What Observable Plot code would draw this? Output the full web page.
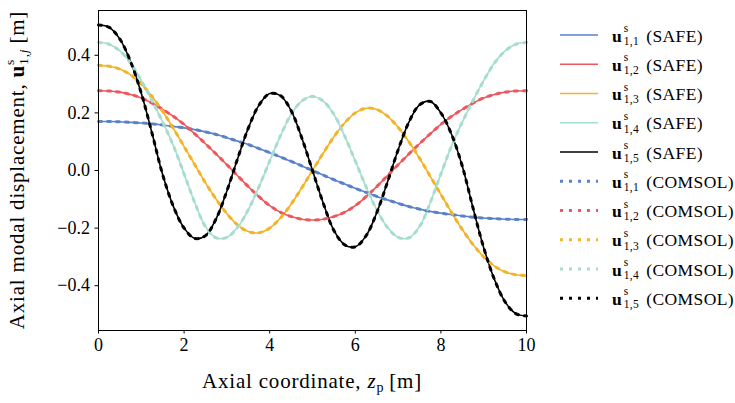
<!DOCTYPE html>
<html><head><meta charset="utf-8">
<script src="https://cdn.jsdelivr.net/npm/d3@7"></script>
<script src="https://cdn.jsdelivr.net/npm/@observablehq/plot@0.6"></script>
<style>
html,body{margin:0;padding:0;background:#fff;}
#chart{width:735px;height:403px;}
</style></head><body><div id="chart"></div>
<script>
// Axial coordinate samples [m]
const zp = [0,0.25,0.5,0.75,1,1.25,1.5,1.75,2,2.25,2.5,2.75,3,3.25,3.5,3.75,4,4.25,4.5,4.75,5,
            5.25,5.5,5.75,6,6.25,6.5,6.75,7,7.25,7.5,7.75,8,8.25,8.5,8.75,9,9.25,9.5,9.75,10];
// Mode shapes
const u11 = [0.170,0.170,0.169,0.167,0.165,0.162,0.158,0.153,0.148,0.142,0.134,0.125,0.114,0.102,0.090,0.076,0.062,0.047,0.032,0.016,0.000,
             -0.016,-0.032,-0.047,-0.062,-0.076,-0.090,-0.102,-0.114,-0.125,-0.134,-0.142,-0.148,-0.153,-0.158,-0.162,-0.165,-0.167,-0.169,-0.170,-0.170];
const u12 = [0.277,0.276,0.272,0.264,0.252,0.234,0.212,0.188,0.160,0.127,0.093,0.057,0.020,-0.018,-0.056,-0.091,-0.122,-0.145,-0.160,-0.169,-0.172,
             -0.169,-0.160,-0.145,-0.122,-0.091,-0.056,-0.018,0.020,0.057,0.093,0.127,0.160,0.188,0.212,0.234,0.252,0.264,0.272,0.276,0.277];
const u13 = [0.365,0.362,0.352,0.332,0.300,0.257,0.205,0.146,0.083,0.020,-0.043,-0.100,-0.150,-0.189,-0.212,-0.216,-0.200,-0.165,-0.117,-0.060,0.000,
             0.060,0.117,0.165,0.200,0.216,0.212,0.189,0.150,0.100,0.043,-0.020,-0.083,-0.146,-0.205,-0.257,-0.300,-0.332,-0.352,-0.362,-0.365];
const u14 = [0.445,0.438,0.415,0.373,0.312,0.243,0.168,0.086,-0.012,-0.112,-0.195,-0.234,-0.232,-0.197,-0.136,-0.056,0.033,0.120,0.195,0.241,0.257,
             0.241,0.195,0.120,0.033,-0.056,-0.136,-0.197,-0.232,-0.234,-0.195,-0.112,-0.012,0.086,0.168,0.243,0.312,0.373,0.415,0.438,0.445];
const u15 = [0.505,0.497,0.456,0.378,0.268,0.130,-0.015,-0.125,-0.200,-0.236,-0.226,-0.167,-0.071,0.041,0.147,0.227,0.267,0.260,0.208,0.113,0.000,
             -0.113,-0.208,-0.258,-0.265,-0.227,-0.147,-0.041,0.071,0.167,0.228,0.240,0.200,0.125,0.015,-0.130,-0.268,-0.378,-0.456,-0.497,-0.505];

const modeIndex = ["1","2","3","4","5"];
const modeValues = [u11,u12,u13,u14,u15];
const modeColors = ["#5A82C8","#EE585C","#F3B42A","#A6DDCF","#000000"];
const methods = ["SAFE","COMSOL"];
const xTicks = [0,2,4,6,8,10];
const yTicks = [-0.4,-0.2,0.0,0.2,0.4];

const FONT = "'Liberation Serif', 'Times New Roman', serif";

const marks = [];
modeValues.forEach((vals,k) => {
  const data = zp.map((z,i) => ({z, v: vals[i]}));
  marks.push(Plot.line(data, {x:"z", y:"v", stroke: modeColors[k], strokeWidth: 1.6, curve: "catmull-rom"}));
});
modeValues.forEach((vals,k) => {
  const data = zp.map((z,i) => ({z, v: vals[i]}));
  marks.push(Plot.line(data, {x:"z", y:"v", stroke: modeColors[k], strokeWidth: 3, strokeDasharray: "3,6", curve: "catmull-rom"}));
});
marks.push(Plot.frame({stroke: "black", strokeWidth: 1}));
marks.push(Plot.axisX({ticks: xTicks, tickSize: 3.5, tickPadding: 4.5, label: null, fontSize: 18, tickFormat: d3.format("d")}));
marks.push(Plot.axisY({ticks: yTicks, tickSize: 3.5, tickPadding: 5, label: null, fontSize: 18, tickFormat: d3.format(".1f")}));

const chart = Plot.plot({
  width: 735, height: 403,
  marginLeft: 98, marginRight: 209, marginTop: 10, marginBottom: 73,
  x: {domain: [0, 10]},
  y: {domain: [-0.5555, 0.5555]},
  style: {fontFamily: FONT, fontSize: "18px", color: "black", background: "white", overflow: "visible"},
  marks
});
document.getElementById("chart").appendChild(chart);

const svg = d3.select(chart);

// x axis label
const xl = svg.append("text").attr("x", 312).attr("y", 388).attr("text-anchor", "middle")
  .attr("font-family", FONT).attr("font-size", 21).attr("letter-spacing", 0.8).attr("fill", "black");
xl.append("tspan").text("Axial coordinate, ");
xl.append("tspan").attr("font-style", "italic").text("z");
xl.append("tspan").attr("font-size", 14).attr("dy", 4).text("p");
xl.append("tspan").attr("dy", -4).attr("dx", 5).text("[m]");

// y axis label
const yl = svg.append("text").attr("transform", "translate(23.5,170) rotate(-90)").attr("text-anchor", "middle")
  .attr("font-family", FONT).attr("font-size", 21).attr("letter-spacing", 0.8).attr("fill", "black");
yl.append("tspan").text("Axial modal displacement, ");
yl.append("tspan").attr("font-weight", "bold").text("u");
yl.append("tspan").attr("font-size", 13.5).attr("dy", -10).text("s");
yl.append("tspan").attr("font-size", 13.5).attr("dx", -6).attr("dy", 14).text("1,");
yl.append("tspan").attr("font-size", 13.5).attr("font-style", "italic").text("j");
yl.append("tspan").attr("dy", -4).attr("dx", 5).text("[m]");

// legend
const lg = svg.append("g").attr("font-family", FONT).attr("fill", "black").attr("text-anchor", "start");
let row = 0;
methods.forEach(m => {
  modeIndex.forEach((idx,k) => {
    const y = 35 + row * 29.26;
    lg.append("line").attr("x1", 560).attr("x2", 598).attr("y1", y).attr("y2", y)
      .attr("stroke", modeColors[k])
      .attr("stroke-width", m === "SAFE" ? 1.6 : 3)
      .attr("stroke-dasharray", m === "SAFE" ? null : "3,6");
    const t = lg.append("text").attr("x", 612).attr("y", y + 6.5).attr("font-size", 17.5)
      .attr("letter-spacing", 0.4).attr("text-anchor", "start");
    t.append("tspan").attr("font-weight", "bold").text("u");
    t.append("tspan").attr("font-size", 11.5).attr("dx", 1.5).attr("dy", -9.5).text("s");
    t.append("tspan").attr("font-size", 11.5).attr("dx", -4.9).attr("dy", 12.8).text("1," + idx);
    t.append("tspan").attr("dx", 7).attr("dy", -3.3).text("(" + m + ")");
    row++;
  });
});
</script>
</body></html>
